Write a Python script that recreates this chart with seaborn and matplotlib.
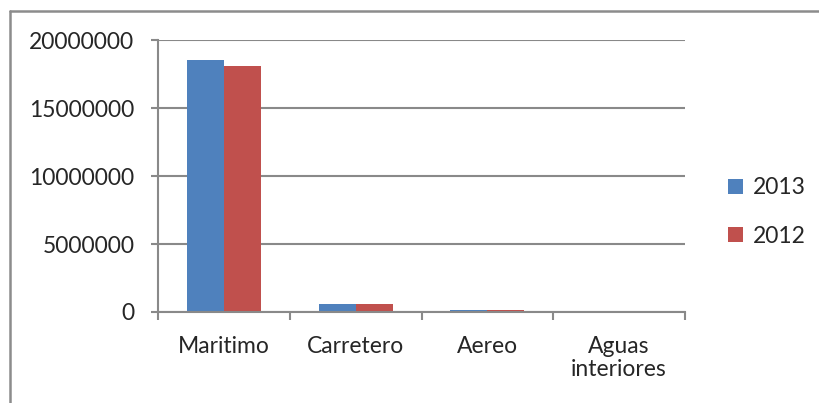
import matplotlib
matplotlib.use("Agg")
import matplotlib.pyplot as plt
from matplotlib.lines import Line2D
import seaborn as sns
import pandas as pd

categories = ["Maritimo", "Carretero", "Aereo", "Aguas\ninteriores"]
years = ["2013", "2012"]
values_2013 = [18530000, 580000, 150000, 5000]
values_2012 = [18110000, 580000, 150000, 5000]
y_ticks = [0, 5000000, 10000000, 15000000, 20000000]
colors = ["#4F81BD", "#C0504D"]

df = pd.DataFrame({
    "categoria": categories * 2,
    "anio": [years[0]] * 4 + [years[1]] * 4,
    "valor": values_2013 + values_2012,
})

sns.set_theme(style="white")
plt.rcParams["font.family"] = ["Lato", "DejaVu Sans"]
fs = 16.5

fig = plt.figure(figsize=(8.2, 4.03), dpi=100)
ax = fig.add_axes([158 / 820, 1 - 312 / 403, (685 - 158) / 820, (312 - 40.3) / 403])

sns.barplot(data=df, x="categoria", y="valor", hue="anio", hue_order=years,
            palette=colors, width=0.56, saturation=1, linewidth=0, ax=ax, legend=True)

grid_color = "#898989"
ax.set_ylim(0, 20000000)
ax.set_xlim(-0.5, len(categories) - 0.5)
ax.set_yticks(y_ticks)
ax.set_yticklabels([str(v) for v in y_ticks], fontsize=fs)
ax.yaxis.grid(True, color=grid_color, linewidth=1.5)
ax.set_axisbelow(True)
ax.tick_params(axis="y", length=5, width=1.5, color=grid_color, pad=12, left=True)
ax.tick_params(axis="x", which="major", length=0, pad=17, labelsize=fs)
for lbl in ax.get_xticklabels():
    lbl.set_linespacing(1.15)
ax.set_xticks([i - 0.5 for i in range(len(categories) + 1)], minor=True)
ax.tick_params(axis="x", which="minor", length=6, width=1.5, color=grid_color, bottom=True)
for side in ["top", "right"]:
    ax.spines[side].set_visible(False)
for side in ["left", "bottom"]:
    ax.spines[side].set_color(grid_color)
    ax.spines[side].set_linewidth(1.5)
ax.set_xlabel("")
ax.set_ylabel("")

handles, labels = ax.get_legend_handles_labels()
ax.legend(handles, labels, loc="center left", bbox_to_anchor=(728 / 820, 1 - 212 / 403),
          bbox_transform=fig.transFigure, frameon=False, fontsize=fs,
          borderaxespad=0, borderpad=0,
          handlelength=0.65, handleheight=0.65, handletextpad=0.45, labelspacing=1.2)

# outer chart frame
frame_color = "#8c8c8c"
fig.add_artist(Line2D([10.5 / 820, 1.0], [1 - 10.5 / 403, 1 - 10.5 / 403],
                      transform=fig.transFigure, color=frame_color, linewidth=1.8))
fig.add_artist(Line2D([10.5 / 820, 10.5 / 820], [0.0, 1 - 10.5 / 403],
                      transform=fig.transFigure, color=frame_color, linewidth=1.8))

fig.savefig("out.png", dpi=100)
